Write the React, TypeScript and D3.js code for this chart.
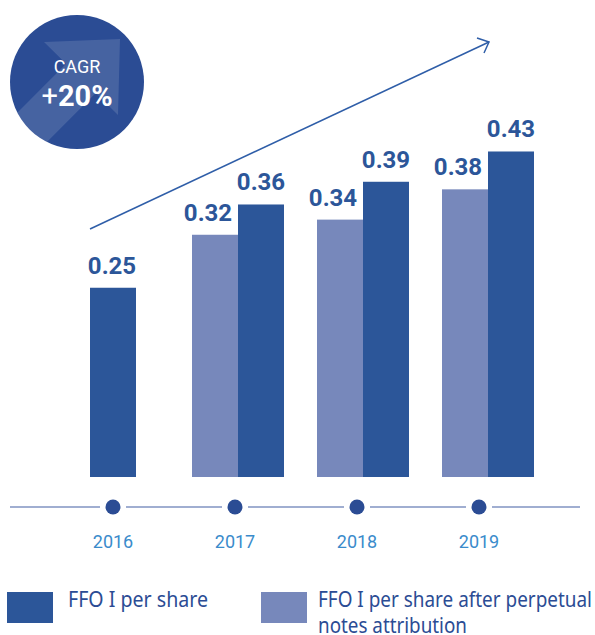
import React from "react";
import * as d3 from "d3";

const years = ["2016", "2017", "2018", "2019"];
const ffoPerShare = [0.25, 0.36, 0.39, 0.43];
const ffoAfterNotes: (number | null)[] = [null, 0.32, 0.34, 0.38];
const seriesNames = ["FFO I per share", "FFO I per share after perpetual", "notes attribution"];
const cagrLabel = "CAGR";
const cagrValue = "20%";

const DARK = "#2c5699";
const LIGHT = "#7788bb";
const CIRCLE = "#2b4c94";
const YEAR_COLOR = "#3a8bcb";
const AXIS = "#8193c2";

export default function App() {
  const W = 595, H = 635;
  const x = d3.scaleBand().domain(years).range([50.5, 550.5]).padding(0);
  const inner = d3.scaleBand().domain(["light", "dark"]).range([0, 92]).padding(0);
  const y = d3.scaleLinear().domain([0, 0.45]).range([477, 477 - 0.45 * 757]);
  const xAxis = d3.scalePoint().domain(years).range([113, 479]);

  const groupLeft = (yr: string) => (x(yr) as number) + x.bandwidth() / 2 - 46;

  const bars: { key: string; x: number; w: number; v: number; fill: string; dx: number }[] = [];
  years.forEach((yr, i) => {
    const lv = ffoAfterNotes[i];
    if (lv == null) {
      bars.push({ key: yr + "d", x: groupLeft(yr) + 23, w: inner.bandwidth(), v: ffoPerShare[i], fill: DARK, dx: -1 });
    } else {
      bars.push({ key: yr + "l", x: groupLeft(yr) + (inner("light") as number), w: inner.bandwidth(), v: lv, fill: LIGHT, dx: -7 });
      bars.push({ key: yr + "d", x: groupLeft(yr) + (inner("dark") as number), w: inner.bandwidth(), v: ffoPerShare[i], fill: DARK, dx: 0 });
    }
  });

  const cx = 77, cy = 82, r = 67;
  const arrowPts: [number, number][] = [
    [-80, 51], [-10.9, -18.2], [-33, -40], [43, -43], [41, 33], [18.8, 11.1], [-50, 80],
  ];
  const arrowPath = d3.line()(arrowPts.map(([a, b]) => [cx + a, cy + b])) + "Z";

  const axisY = 507;
  const gap = 13;
  const dotXs = years.map((yr) => xAxis(yr) as number);
  const segs: [number, number][] = [];
  let prev = 10;
  dotXs.forEach((dx) => {
    segs.push([prev, dx - gap]);
    prev = dx + gap;
  });
  segs.push([prev, 580]);

  const font = "Roboto, 'Open Sans', sans-serif";
  const legendFont = "'Noto Sans', 'Open Sans', sans-serif";

  return (
    <svg width={W} height={H} style={{ position: "absolute", left: 0, top: 0 }} fontFamily={font}>
      <defs>
        <clipPath id="cclip">
          <circle cx={cx} cy={cy} r={r} />
        </clipPath>
      </defs>
      {/* CAGR badge */}
      <circle cx={cx} cy={cy} r={r} fill={CIRCLE} />
      <path d={arrowPath} fill="#ffffff" fillOpacity={0.13} clipPath="url(#cclip)" />
      <text x={cx} y={73} textAnchor="middle" fill="#fff" fontSize={18}>{cagrLabel}</text>
      <text x={cx} y={106} textAnchor="middle" fill="#fff" fontSize={29}>
        <tspan>+</tspan>
        <tspan fontWeight="bold">{cagrValue}</tspan>
      </text>

      {/* trend arrow */}
      <line x1={90} y1={229} x2={489} y2={42} stroke="#2f5ea8" strokeWidth={1.5} />
      <polyline points="477,38 489,42 484,53" fill="none" stroke="#2f5ea8" strokeWidth={1.5} />

      {/* bars */}
      {bars.map((b) => (
        <g key={b.key}>
          <rect x={b.x} y={y(b.v)} width={b.w} height={y(0) - y(b.v)} fill={b.fill} />
          <text x={b.x + b.w / 2 + b.dx} y={y(b.v) - 14} textAnchor="middle" fill={DARK} fontSize={24} fontWeight="bold">
            {b.v.toFixed(2)}
          </text>
        </g>
      ))}

      {/* timeline axis */}
      {segs.map(([a, b], i) => (
        <line key={i} x1={a} x2={b} y1={axisY} y2={axisY} stroke={AXIS} strokeWidth={1.5} />
      ))}
      {years.map((yr) => (
        <g key={yr}>
          <circle cx={xAxis(yr)} cy={axisY} r={7.5} fill={CIRCLE} />
          <text x={xAxis(yr)} y={548} textAnchor="middle" fill={YEAR_COLOR} fontSize={18}>{yr}</text>
        </g>
      ))}

      {/* legend */}
      <rect x={7} y={592} width={46} height={31} fill={DARK} />
      <text x={68} y={607} fill={CIRCLE} fontSize={22} fontFamily={legendFont} textLength={140} lengthAdjust="spacingAndGlyphs">{seriesNames[0]}</text>
      <rect x={261} y={592} width={46} height={31} fill={LIGHT} />
      <text x={318} y={607} fill={CIRCLE} fontSize={22} fontFamily={legendFont} textLength={274} lengthAdjust="spacingAndGlyphs">{seriesNames[1]}</text>
      <text x={318} y={633} fill={CIRCLE} fontSize={22} fontFamily={legendFont} textLength={149} lengthAdjust="spacingAndGlyphs">{seriesNames[2]}</text>
    </svg>
  );
}
